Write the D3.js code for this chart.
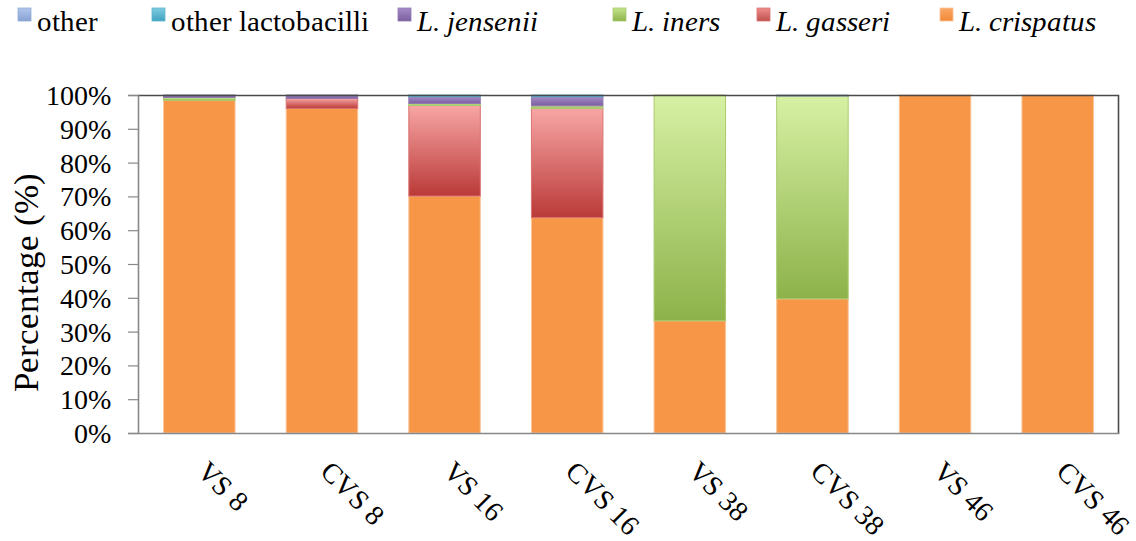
<!DOCTYPE html>
<html>
<head>
<meta charset="utf-8">
<script src="https://cdn.jsdelivr.net/npm/d3@7"></script>
<style>
  @font-face { font-family: "ChartSerif"; src: local("Liberation Serif"), local("LiberationSerif"), local("Tinos"); font-style: normal; }
  @font-face { font-family: "ChartSerif"; src: local("Liberation Serif Italic"), local("LiberationSerif-Italic"), local("Tinos Italic"); font-style: italic; }
  body { margin: 0; background: #fff; }
  #chart text { font-family: "ChartSerif", "Tinos", "Times New Roman", "Liberation Serif"; }
</style>
</head>
<body>
<svg id="chart" width="1136" height="541"></svg>
<script>
// Samples (vaginal swab / cervicovaginal swab, by gestational week)
const samples = ["VS 8", "CVS 8", "VS 16", "CVS 16", "VS 38", "CVS 38", "VS 46", "CVS 46"];

// Relative abundance (%) per taxon, stacked bottom to top
const crispatus   = [98.4, 96.0, 70.1, 63.7, 33.2, 39.7, 100, 100];
const gasseri     = [0.0,  3.0,  26.8, 32.3, 0.0,  0.0,  0,   0];
const iners       = [0.9,  0.0,  0.6,  0.8,  66.8, 60.0, 0,   0];
const jensenii    = [0.7,  1.0,  2.0,  2.7,  0.0,  0.0,  0,   0];
const otherLacto  = [0.0,  0.0,  0.5,  0.5,  0.0,  0.0,  0,   0];
const other       = [0.0,  0.0,  0.0,  0.0,  0.0,  0.3,  0,   0];

const yTicks = [0, 10, 20, 30, 40, 50, 60, 70, 80, 90, 100];

// Stack order (bottom -> top) and legend order (left -> right)
const stackKeys  = ["crispatus", "gasseri", "iners", "jensenii", "otherLacto", "other"];
const legendKeys = ["other", "otherLacto", "jensenii", "iners", "gasseri", "crispatus"];

const seriesInfo = {
  crispatus:  { label: "L. crispatus",       italic: true,  top: "#F79646", bottom: "#F79646", edge: "#FBC49A", sw: ["#FAA866", "#F28A38"] },
  gasseri:    { label: "L. gasseri",         italic: true,  top: "#F7A6A5", bottom: "#BA3A38", edge: "#D97472", sw: ["#EE8F8D", "#C0504D"] },
  iners:      { label: "L. iners",           italic: true,  top: "#D7F1A4", bottom: "#8DB24A", edge: "#A9CB6E", sw: ["#C4E48A", "#8DB24A"] },
  jensenii:   { label: "L. jensenii",        italic: true,  top: "#A58CC8", bottom: "#7A5E9E", edge: "#9179B4", sw: ["#A58CC8", "#7A5E9E"] },
  otherLacto: { label: "other lactobacilli", italic: false, top: "#7FCBE0", bottom: "#3FA3BF", edge: "#5CB6D0", sw: ["#7FCBE0", "#3FA3BF"] },
  other:      { label: "other",              italic: false, top: "#A9BFE6", bottom: "#7C97C9", edge: "#93ACD8", sw: ["#B2C6EC", "#86A2D4"] }
};

const valuesByKey = { crispatus, gasseri, iners, jensenii, otherLacto, other };
const rows = samples.map((s, i) => {
  const r = { sample: s };
  stackKeys.forEach(k => r[k] = valuesByKey[k][i]);
  return r;
});

const svg = d3.select("#chart");
const margin = { left: 138, right: 1136 - 1119, top: 95, bottom: 541 - 433 };
const W = 1136 - margin.left - margin.right;
const H = 541 - margin.top - margin.bottom;

const x = d3.scaleBand().domain(samples).range([0, W]).paddingInner(0.417).paddingOuter(0.2085);
const y = d3.scaleLinear().domain([0, 100]).range([H, 0]);

// Vertical gradients for bar segments and legend swatches
const defs = svg.append("defs");
stackKeys.forEach(k => {
  const info = seriesInfo[k];
  const g = defs.append("linearGradient").attr("id", "grad-" + k)
    .attr("x1", 0).attr("y1", 0).attr("x2", 0).attr("y2", 1);
  g.append("stop").attr("offset", "0%").attr("stop-color", info.top);
  g.append("stop").attr("offset", "100%").attr("stop-color", info.bottom);
  const s = defs.append("linearGradient").attr("id", "sw-" + k)
    .attr("x1", 0).attr("y1", 0).attr("x2", 0).attr("y2", 1);
  s.append("stop").attr("offset", "0%").attr("stop-color", info.sw[0]);
  s.append("stop").attr("offset", "100%").attr("stop-color", info.sw[1]);
});

const plot = svg.append("g").attr("transform", `translate(${margin.left},${margin.top})`);

// Stacked bars
const stacked = d3.stack().keys(stackKeys)(rows);
const layers = plot.selectAll("g.layer").data(stacked).join("g")
  .attr("class", "layer")
  .attr("fill", d => `url(#grad-${d.key})`)
  .attr("stroke", d => seriesInfo[d.key].edge);

layers.selectAll("rect")
  .data(d => d.filter(p => p[1] - p[0] > 0))
  .join("rect")
  .attr("x", d => x(d.data.sample))
  .attr("width", x.bandwidth())
  .attr("y", d => y(d[1]))
  .attr("height", d => y(d[0]) - y(d[1]))
  .attr("stroke-width", 1);

// Plot frame: top and right edges
plot.append("path")
  .attr("d", `M0,0.5H${W - 0.5}V${H}`)
  .attr("fill", "none")
  .attr("stroke", "#4a4a4a")
  .attr("stroke-width", 1.6);

// Y axis
const yAxis = d3.axisLeft(y).tickValues(yTicks).tickSize(10).tickPadding(17)
  .tickFormat(d => d + "%");
const yg = plot.append("g").call(yAxis).attr("font-family", null).attr("font-size", null);
yg.select(".domain").attr("stroke", "#888").attr("stroke-width", 1.6);
yg.selectAll(".tick line").attr("stroke", "#888").attr("stroke-width", 1.2);
yg.selectAll(".tick text").attr("font-size", 28).attr("fill", "#000").attr("dy", "0.34em");

// X axis line
const xg = plot.append("g").attr("transform", `translate(0,${H})`)
  .call(d3.axisBottom(x).tickSize(0).tickFormat(""));
xg.select(".domain").attr("stroke", "#888").attr("stroke-width", 1.6);

// Rotated category labels
plot.selectAll("text.xlab").data(samples).join("text")
  .attr("class", "xlab")
  .attr("transform", d => `translate(${x(d) + x.bandwidth() / 2 - 3},${H + 40}) rotate(45)`)
  .attr("font-size", 28)
  .attr("fill", "#000")
  .text(d => d);

// Y axis title
svg.append("text")
  .attr("transform", `translate(38,${margin.top + H / 2 + 18}) rotate(-90)`)
  .attr("text-anchor", "middle")
  .attr("font-size", 35)
  .attr("fill", "#000")
  .text("Percentage (%)");

// Legend
const legendX = [18, 152, 398, 613, 757, 940];
const legend = svg.append("g");
legendKeys.forEach((k, i) => {
  const info = seriesInfo[k];
  const g = legend.append("g").attr("transform", `translate(${legendX[i]},0)`);
  g.append("rect").attr("x", 0).attr("y", 8).attr("width", 13).attr("height", 13)
    .attr("fill", `url(#sw-${k})`).attr("stroke", info.edge).attr("stroke-width", 0.8);
  g.append("text").attr("x", 19).attr("y", 31)
    .attr("font-size", 29)
    .attr("font-style", info.italic ? "italic" : "normal")
    .attr("fill", "#000")
    .text(info.label);
});
</script>
</body>
</html>
